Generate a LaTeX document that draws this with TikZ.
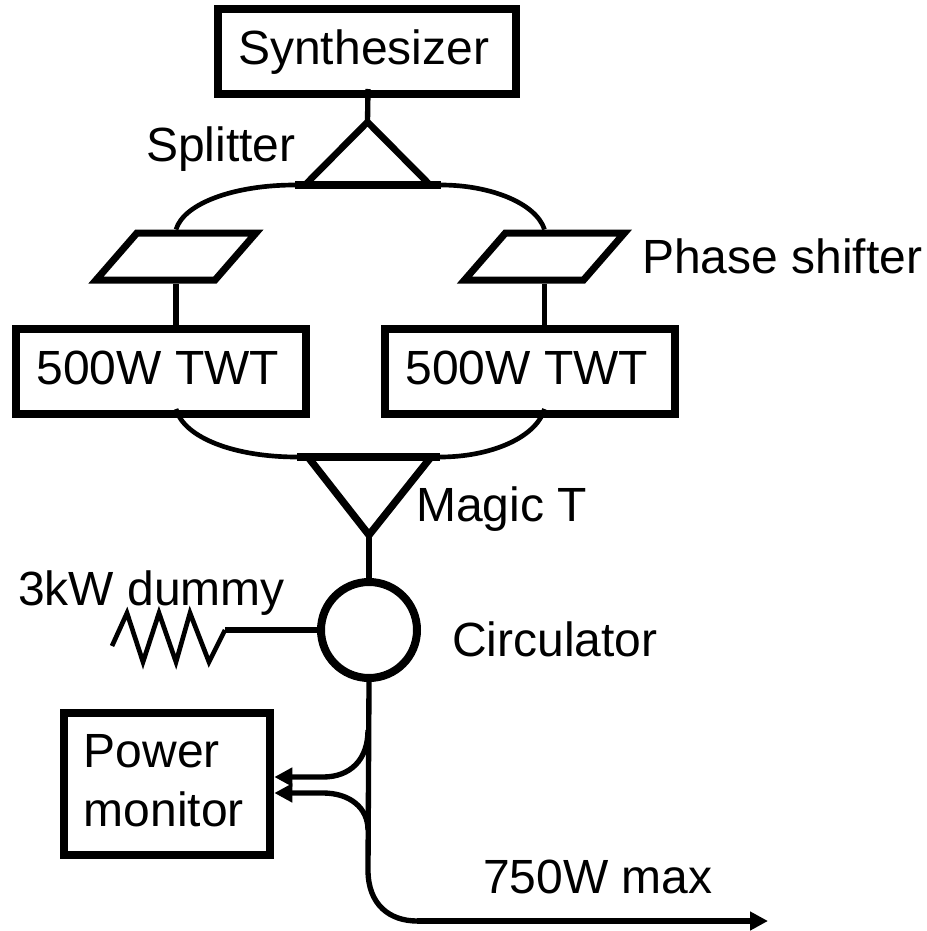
\documentclass[tikz,border=0pt]{standalone}
\usepackage{fontspec}
\setmainfont{Liberation Sans}
\usetikzlibrary{arrows.meta,positioning}

\begin{document}
\begin{tikzpicture}[
            x=0.75pt, y=-0.75pt,
            box/.style={draw, line width=6pt, font=\fontsize{36}{44}\selectfont, inner sep=0pt, execute at end node={\hspace{5pt}}},
            single/.style={box, text height=27pt, text depth=7pt, minimum height=63.75pt},
            shifter/.style={draw, line width=5.25pt, minimum width=89.25pt, minimum height=35.25pt, inner sep=0pt, xslant=0.87, transform shape},
            lbl/.style={font=\fontsize{36}{44}\selectfont, inner sep=0pt, anchor=base west},
            wire/.style={line width=4pt},
            thin wire/.style={line width=3.5pt},
            tee/.style={line width=5pt, miter limit=10},
            bar/.style={line width=6pt},
            arrow/.style={-{Triangle[length=13.5pt, width=13.5pt]}, line width=4pt}
        ]
        \useasboundingbox (0,0) rectangle (927,931);
        \node[single, minimum width=223.5pt] (synth) at (367,51.5) {Synthesizer};
        \node[single, minimum width=217.5pt] (twtL) at (161,371.5) {500W TWT};
        \node[single, minimum width=217.5pt, right=53.25pt of twtL] (twtR) {500W TWT};
        \node[shifter] (phaseL) at (176,256.5) {};
        \node[shifter] (phaseR) at (544.5,256.5) {};
        \node[draw, circle, line width=6pt, minimum size=72pt, inner sep=0pt] (circ) at (369,630) {};
        \node[box, align=left, text depth=5pt, minimum width=155pt, minimum height=106.5pt] (monitor) at (167,784) {Power\\monitor};

        \node[lbl] (splitLbl) at (146,161) {Splitter};
        \node[lbl] (phaseLbl) at (642,273) {Phase shifter};
        \node[lbl] (magicLbl) at (416,521) {Magic T};
        \node[lbl] (dummyLbl) at (18,605) {3kW dummy};
        \node[lbl] (circLbl) at (452,656) {Circulator};
        \node[lbl] (outLbl) at (483,893) {750W max};

        % splitter
        \coordinate (synthPort) at (368,89);
        \coordinate (splitTop) at (367.5,122);
        \coordinate (splitA) at (305,185);
        \coordinate (splitB) at (430,185);
        \coordinate (splitL) at (295,185);
        \coordinate (splitR) at (441,185);
        \draw[wire] (synthPort) -- (splitTop);
        \draw[tee] (splitA) -- (splitTop) -- (splitB);
        \draw[bar] (splitL) -- (splitR);
        \draw[thin wire] (phaseL.center |- phaseL.north) .. controls (184,203) and (235,185) .. (splitL);
        \draw[thin wire] (phaseR.center |- phaseR.north) .. controls (536,203) and (490,185) .. (splitR);
        \draw[wire] (phaseL.center |- phaseL.south) -- (phaseL.center |- twtL.north);
        \draw[wire] (phaseR.center |- phaseR.south) -- (phaseR.center |- twtR.north);

        % magic T
        \coordinate (twtPortL) at (176,409);
        \coordinate (twtPortR) at (544.5,409);
        \coordinate (magicTip) at (369,535);
        \coordinate (magicA) at (308,457);
        \coordinate (magicB) at (431,457);
        \coordinate (magicL) at (297,457);
        \coordinate (magicR) at (440,457);
        \draw[thin wire] (twtPortL) .. controls (184,438) and (235,457) .. (magicL);
        \draw[thin wire] (twtPortR) .. controls (536,438) and (490,457) .. (magicR);
        \draw[bar] (magicL) -- (magicR);
        \draw[tee, line width=5.5pt] (magicA) -- (magicTip) -- (magicB);
        \draw[wire] (magicTip) -- (circ.north);

        % dummy load
        \coordinate (dummyEnd) at (225,630);
        \draw[wire] (circ.west) -- (dummyEnd);
        \draw[thin wire] (dummyEnd) -- (209,662) -- (190,613) -- (176,662) -- (159,613) -- (143,662) -- (127,613) -- (112,646);

        % output and monitor taps
        \coordinate (tapA) at (368,730);
        \coordinate (tapB) at (368,830);
        \coordinate (bendA) at (323,777);
        \coordinate (bendB) at (323,793);
        \coordinate (bendOut) at (368,870);
        \coordinate (outStart) at (417,921);
        \coordinate (outEnd) at (768,921);
        \draw[wire] (circ.south) -- (bendOut) .. controls (368,905) and (390,921) .. (outStart);
        \draw[arrow] (outStart) -- (outEnd);
        \draw[arrow] (tapA) .. controls (368,760) and (350,777) .. (bendA) -- (bendA -| monitor.east);
        \draw[arrow] (tapB) .. controls (368,808) and (350,793) .. (bendB) -- (bendB -| monitor.east);
        \end{tikzpicture}
\end{document}
